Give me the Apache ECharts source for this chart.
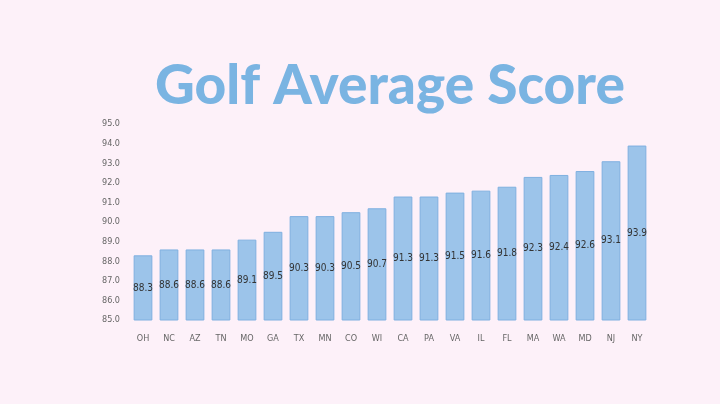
<!DOCTYPE html><html><head><meta charset="utf-8"><script src="https://cdn.jsdelivr.net/npm/echarts@6/dist/echarts.min.js"></script>
<style>html,body{margin:0;background:#fdf1f9}#c{width:720px;height:404px}</style></head><body><div id="c"></div><script>
const categories=["OH","NC","AZ","TN","MO","GA","TX","MN","CO","WI","CA","PA","VA","IL","FL","MA","WA","MD","NJ","NY"];
const values=[88.3,88.6,88.6,88.6,89.1,89.5,90.3,90.3,90.5,90.7,91.3,91.3,91.5,91.6,91.8,92.3,92.4,92.6,93.1,93.9];
const c=echarts.init(document.getElementById('c'));
c.setOption({backgroundColor:'#fdf1f9',animation:false,
title:{text:'Golf Average Score',left:150,top:54,textStyle:{fontFamily:'Lato',fontWeight:900,fontSize:55,color:'#7ab4e2'}},
grid:{left:130,right:70,top:124,bottom:84},
xAxis:{type:'category',data:categories,axisLine:{show:false},axisTick:{show:false},axisLabel:{color:'#666',fontSize:9,margin:14,fontFamily:'DejaVu Sans Condensed'}},
yAxis:{type:'value',min:85,max:95,interval:1,splitLine:{show:false},axisLabel:{color:'#666',fontSize:9,margin:10,formatter:v=>v.toFixed(1),fontFamily:'DejaVu Sans Condensed'}},
series:[{type:'bar',data:values,barWidth:'72%',itemStyle:{color:'#9cc4ea',borderColor:'#7fb0e0',borderWidth:1},
label:{show:true,position:'inside',color:'#333',fontSize:10,fontFamily:'DejaVu Sans Condensed',formatter:p=>p.value}}]});
</script></body></html>
